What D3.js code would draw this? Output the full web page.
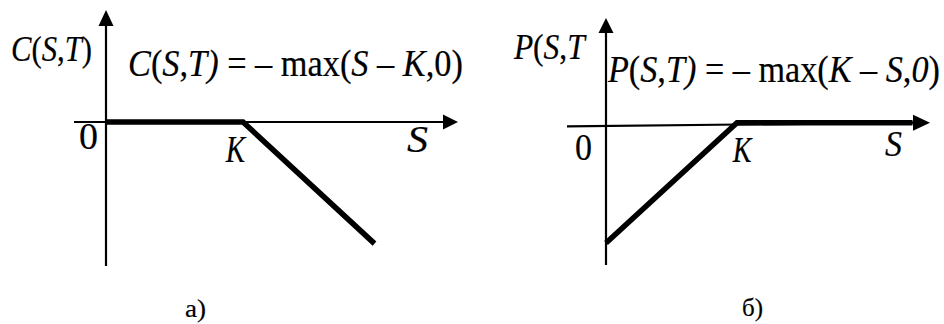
<!DOCTYPE html>
<html><head><meta charset="utf-8">
<script src="https://cdn.jsdelivr.net/npm/d3@7"></script>
<style>html,body{margin:0;padding:0;background:#fff;}svg{display:block;}
text{font-family:"Liberation Serif","Times New Roman",Times,serif;}</style>
</head><body>
<svg id="c" width="944" height="324"></svg>
<script>
// ---- data ----
const strike = 1;
const callS = [0, 1, 1.96];
const callPayoff = [0, 0, -0.96];
const putS = [0, 1, 2.34];
const putPayoff = [-1, 0, 0];
const panelCaptions = ["а)", "б)"];
const yLabels = [[["C", "i"], ["(", "n"], ["S", "i"], [",", "n"], ["T", "i"], [")", "n"]],
                 [["P", "i"], ["(", "n"], ["S", "i"], [",", "n"], ["T", "i"]]];
const formulas = [
  [["C", "i"], ["(", "n"], ["S", "i"], [",", "n"], ["T", "i"], [")", "i"], [" = \u2013 max(", "n"], ["S", "i"], [" \u2013 ", "n"], ["K", "i"], [",0)", "n"]],
  [["P", "i"], ["(", "n"], ["S", "i"], [",", "n"], ["T", "i"], [")", "i"], [" = \u2013 max(", "n"], ["K", "i"], [" \u2013 ", "n"], ["S", "i"], [",", "n"], ["0", "i"], [")", "n"]]
];
const originLabel = "0", strikeLabel = "K", xLabel = "S";

// ---- drawing ----
const svg = d3.select("#c");

function fitText(parts, x0, x1, baseline, size) {
  const t = svg.append("text").attr("x", 0).attr("y", 0)
    .style("font-size", size + "px").attr("fill", "#000")
    .attr("stroke", "#000").attr("stroke-width", 0.2)
    .style("white-space", "pre");
  parts.forEach(p => t.append("tspan").text(p[0]).style("font-style", p[1] === "i" ? "italic" : "normal"));
  const bb = t.node().getBBox();
  const sx = (x1 - x0) / bb.width;
  t.attr("transform", `translate(${x0 - bb.x * sx},${baseline}) scale(${sx},1)`);
  return t;
}

function arrow(tip, dir, len, half) {
  let pts;
  if (dir === "up") pts = [[tip[0], tip[1]], [tip[0] - half, tip[1] + len], [tip[0] + half, tip[1] + len]];
  else pts = [[tip[0], tip[1]], [tip[0] - len, tip[1] - half], [tip[0] - len, tip[1] + half]];
  svg.append("path").attr("d", d3.line()(pts) + "Z").attr("fill", "#000");
}

const line = (xs, ys) => d3.line().x(d => xs(d[0])).y(d => ys(d[1]));

// Panel a) call
{
  const x = d3.scaleLinear().domain([0, strike]).range([106, 243]);
  const y = d3.scaleLinear().domain([0, -1]).range([122, 248.7]);
  svg.append("line").attr("x1", x(0)).attr("x2", x(0)).attr("y1", 266).attr("y2", 24)
    .attr("stroke", "#000").attr("stroke-width", 2.2);
  arrow([x(0), 10], "up", 16, 7.5);
  svg.append("line").attr("x1", 74).attr("x2", 445).attr("y1", y(0)).attr("y2", y(0))
    .attr("stroke", "#000").attr("stroke-width", 2.2);
  arrow([458, y(0)], "right", 15, 7.5);
  svg.append("path").datum(callS.map((s, i) => [s, callPayoff[i]]))
    .attr("d", line(x, y)).attr("fill", "none").attr("stroke", "#000")
    .attr("stroke-width", 5.5).attr("stroke-linejoin", "miter").attr("stroke-linecap", "butt");
  fitText(yLabels[0], 11, 92, 61, 35);
  fitText(formulas[0], 128, 463, 76, 37);
  fitText([[originLabel, "n"]], 79, 98, 149, 38);
  fitText([[strikeLabel, "i"]], x(strike) - 18, x(strike) + 4, 162, 37);
  fitText([[xLabel, "i"]], 407, 428, 152, 37);
  fitText([[panelCaptions[0], "n"]], 185, 206, 317, 25);
}

// Panel б) put
{
  const x = d3.scaleLinear().domain([0, strike]).range([606, 737]);
  const y = d3.scaleLinear().domain([0, -1]).range([122.7, 243]);
  svg.append("line").attr("x1", x(0)).attr("x2", x(0)).attr("y1", 265).attr("y2", 31)
    .attr("stroke", "#000").attr("stroke-width", 2.2);
  arrow([x(0), 18], "up", 15, 7.5);
  svg.append("line").attr("x1", 567).attr("x2", 915).attr("y1", y(0) + 3.6).attr("y2", y(0))
    .attr("stroke", "#000").attr("stroke-width", 2.2);
  arrow([930, y(0)], "right", 17, 8);
  svg.append("path").datum(putS.map((s, i) => [s, putPayoff[i]]))
    .attr("d", line(x, y)).attr("fill", "none").attr("stroke", "#000")
    .attr("stroke-width", 5.5).attr("stroke-linejoin", "miter").attr("stroke-linecap", "butt");
  fitText(yLabels[1], 513, 587, 59, 35);
  fitText(formulas[1], 607, 940, 82, 37);
  fitText([[originLabel, "n"]], 575, 592, 160, 38);
  fitText([[strikeLabel, "i"]], x(strike) - 5, x(strike) + 16, 162, 36);
  fitText([[xLabel, "i"]], 885, 902, 156, 36);
  fitText([[panelCaptions[1], "n"]], 742, 763, 316, 25);
}
</script>
</body></html>
